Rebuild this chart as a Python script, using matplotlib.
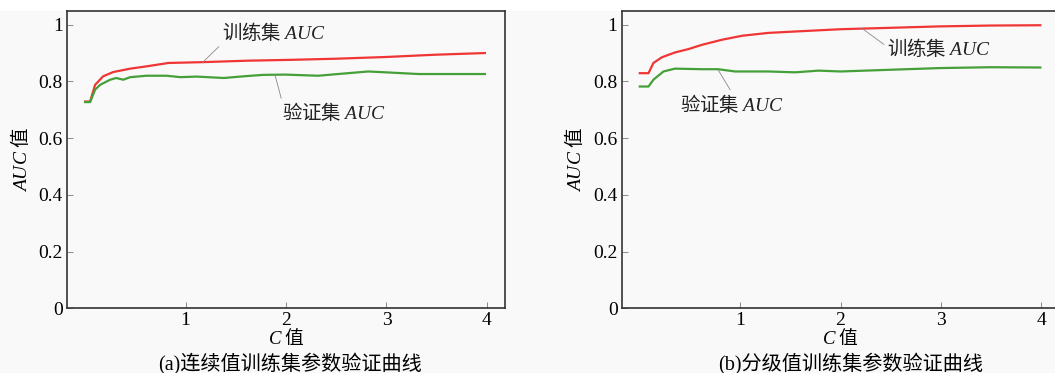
import numpy as np
import matplotlib
matplotlib.use('Agg')
import matplotlib.pyplot as plt
from matplotlib.patches import Rectangle

plt.rcParams['font.family'] = ['Liberation Serif', 'Noto Sans CJK SC']
plt.rcParams['mathtext.fontset'] = 'custom'
plt.rcParams['mathtext.rm'] = 'Liberation Serif'
plt.rcParams['mathtext.it'] = 'Liberation Serif:italic'
CJK = 'Noto Sans CJK SC'

# (a) continuous values
c_train_a = [0.0, 0.05, 0.10, 0.18, 0.28, 0.45, 0.61, 0.83, 1.18, 1.61, 2.04, 2.5, 2.99, 3.48, 3.98]
auc_train_a = [0.729, 0.729, 0.788, 0.818, 0.833, 0.845, 0.853, 0.865, 0.868, 0.873, 0.876, 0.880, 0.886, 0.894, 0.900]
c_val_a = [0.0, 0.05, 0.10, 0.15, 0.25, 0.31, 0.38, 0.45, 0.61, 0.81, 0.95, 1.11, 1.38, 1.58, 1.77, 1.99,
           2.32, 2.65, 2.82, 2.99, 3.32, 3.98]
auc_val_a = [0.727, 0.727, 0.771, 0.788, 0.806, 0.812, 0.806, 0.815, 0.820, 0.820, 0.815, 0.817, 0.812,
             0.818, 0.823, 0.824, 0.820, 0.830, 0.835, 0.832, 0.826, 0.826]

# (b) graded values
c_train_b = [0.0, 0.087, 0.136, 0.22, 0.35, 0.485, 0.62, 0.82, 1.02, 1.28, 1.55, 2.0, 2.5, 2.99, 3.5, 3.99]
auc_train_b = [0.829, 0.829, 0.865, 0.885, 0.902, 0.914, 0.929, 0.947, 0.961, 0.971, 0.976, 0.984, 0.989,
               0.994, 0.997, 0.998]
c_val_b = [0.0, 0.087, 0.136, 0.236, 0.35, 0.62, 0.78, 0.95, 1.28, 1.55, 1.78, 2.0, 2.49, 2.99, 3.49, 3.99]
auc_val_b = [0.782, 0.782, 0.806, 0.835, 0.845, 0.843, 0.843, 0.835, 0.835, 0.832, 0.838, 0.835, 0.841,
             0.847, 0.850, 0.849]

yticks = [0, 0.2, 0.4, 0.6, 0.8, 1.0]
yticklabels = ['0', '0.2', '0.4', '0.6', '0.8', '1']
xticks = [1, 2, 3, 4]

RED = '#f03535'
GREEN = '#45a03a'
BG = '#f9f9f9'

fig = plt.figure(figsize=(10.55, 3.73), dpi=100, facecolor=BG)
fig.patches.append(Rectangle((0, 1 - 10.5/373), 1, 10.5/373, transform=fig.transFigure,
                             facecolor='white', edgecolor='none', zorder=-1))

ax1 = fig.add_axes([67/1055, 1 - 308.3/373, 438/1055, 297.8/373])
ax2 = fig.add_axes([621.7/1055, 1 - 308.3/373, 437.7/1055, 297.8/373])


def style(ax):
    ax.set_facecolor(BG)
    ax.set_xlim(-0.18, 4.18)
    ax.set_ylim(0, 1.05)
    ax.set_xticks(xticks)
    ax.set_xticklabels([str(t) for t in xticks])
    ax.set_yticks(yticks)
    ax.set_yticklabels(yticklabels)
    ax.tick_params(direction='in', length=4, width=0.6, color='#777777', labelsize=14, pad=3)
    for s in ax.spines.values():
        s.set_color('#333333')
        s.set_linewidth(1.2)
    ax.set_xlabel(r'$C$ 值', fontsize=13.5, labelpad=-1, family=CJK)
    ax.set_ylabel(r'$AUC$ 值', fontsize=14, labelpad=5, family=CJK)


style(ax1)
style(ax2)

ax1.plot(c_train_a, auc_train_a, color=RED, lw=1.6)
ax1.plot(c_val_a, auc_val_a, color=GREEN, lw=1.6)
ax2.plot(c_train_b, auc_train_b, color=RED, lw=1.6)
ax2.plot(c_val_b, auc_val_b, color=GREEN, lw=1.6)

lead = dict(arrowstyle='-', color='#888888', lw=0.6, shrinkA=0, shrinkB=0)
note = dict(fontsize=14, ha='left', va='center', color='#222222', family=CJK)

ax1.annotate(r'训练集 $AUC$', xy=(1.17, 0.867), xytext=(1.36, 0.973),
             arrowprops=dict(relpos=(0, 0), **lead), **note)
ax1.annotate(r'验证集 $AUC$', xy=(1.89, 0.823), xytext=(1.96, 0.69),
             arrowprops=dict(relpos=(0, 1), **lead), **note)
ax2.annotate(r'训练集 $AUC$', xy=(2.21, 0.988), xytext=(2.46, 0.915),
             arrowprops=dict(relpos=(0, 0.6), **lead), **note)
ax2.annotate(r'验证集 $AUC$', xy=(0.78, 0.841), xytext=(0.40, 0.72),
             arrowprops=dict(relpos=(0.5, 1), **lead), **note)

fig.text(290/1055, 1 - 364/373, '(a)连续值训练集参数验证曲线', ha='center', va='center', fontsize=14.5)
fig.text(851/1055, 1 - 364/373, '(b)分级值训练集参数验证曲线', ha='center', va='center', fontsize=14.5)

fig.savefig('out.png', dpi=100, facecolor=BG)
